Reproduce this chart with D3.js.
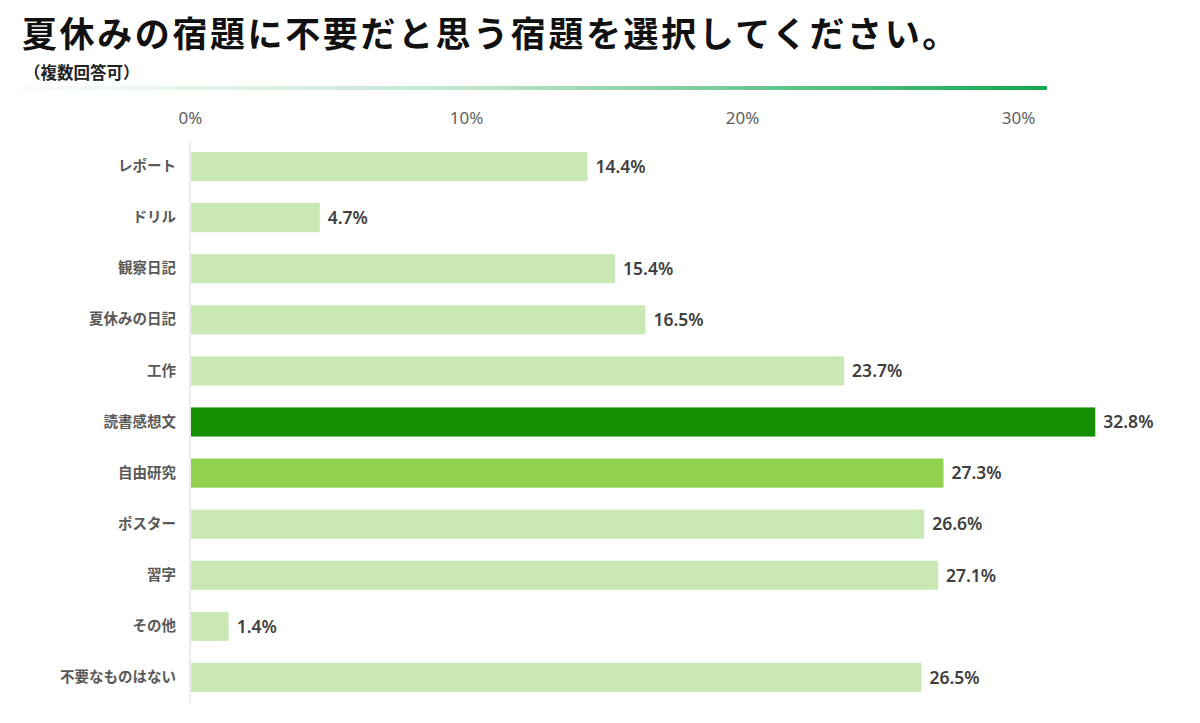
<!DOCTYPE html>
<html>
<head>
<meta charset="utf-8">
<script src="https://cdn.jsdelivr.net/npm/d3@7"></script>
<style>
  body { margin: 0; background: #fff; }
  svg { display: block; font-family: "Noto Sans CJK JP", "Noto Sans", sans-serif; }
</style>
</head>
<body>
<div class="chart"></div>
<script>
// data
var categories = ["レポート", "ドリル", "観察日記", "夏休みの日記", "工作", "読書感想文",
                  "自由研究", "ポスター", "習字", "その他", "不要なものはない"];
var values = [14.4, 4.7, 15.4, 16.5, 23.7, 32.8, 27.3, 26.6, 27.1, 1.4, 26.5];
var barColors = ["#c9e8b4", "#c9e8b4", "#c9e8b4", "#c9e8b4", "#c9e8b4", "#138f00",
                 "#92d050", "#c9e8b4", "#c9e8b4", "#c9e8b4", "#c9e8b4"];
var tickValues = [0, 10, 20, 30];

var width = 1200, height = 723;

var svg = d3.select(".chart")
   .append("svg")
   .attr("width", width)
   .attr("height", height);

// title
svg.append("text")
   .attr("x", 22)
   .attr("y", 47)
   .attr("font-size", "35px")
   .attr("font-weight", "bold")
   .attr("letter-spacing", "2.6px")
   .attr("fill", "#111")
   .text("夏休みの宿題に不要だと思う宿題を選択してください。");

svg.append("text")
   .attr("x", 24)
   .attr("y", 79)
   .attr("font-size", "16.5px")
   .attr("font-weight", "bold")
   .attr("fill", "#222")
   .text("（複数回答可）");

// gradient rule under the title
var grad = svg.append("defs").append("linearGradient")
   .attr("id", "rule")
   .attr("x1", "0%").attr("x2", "100%");
grad.append("stop").attr("offset", "0%").attr("stop-color", "#ffffff");
grad.append("stop").attr("offset", "45%").attr("stop-color", "#bfe6cb");
grad.append("stop").attr("offset", "100%").attr("stop-color", "#14a850");

svg.append("rect")
   .attr("x", 0)
   .attr("y", 86)
   .attr("width", 1047)
   .attr("height", 4)
   .attr("fill", "url(#rule)");

// scales
var x = d3.scaleLinear()
   .domain([0, 30])
   .range([190, 1018]);

var y = d3.scaleBand()
   .domain(categories)
   .range([141, 703])
   .paddingInner(0.43)
   .paddingOuter(0.215);

// top axis labels
var xAxis = d3.axisTop(x)
   .tickValues(tickValues)
   .tickSize(0)
   .tickPadding(0)
   .tickFormat(function(d){ return d + "%"; });

var gx = svg.append("g")
   .attr("transform", "translate(0,124)")
   .call(xAxis);
gx.select(".domain").remove();
gx.selectAll("text")
   .attr("font-size", "17px")
   .attr("fill", "#606060")
   .attr("font-family", "'Noto Sans', sans-serif");

// vertical baseline
svg.append("line")
   .attr("x1", x(0)).attr("x2", x(0))
   .attr("y1", 141).attr("y2", 703)
   .attr("stroke", "#d9d9d9")
   .attr("stroke-width", 1);

// bars
svg.selectAll("rect.bar")
   .data(values)
   .enter()
   .append("rect")
   .attr("class", "bar")
   .attr("x", x(0) + 1)
   .attr("y", function(d, i){ return y(categories[i]); })
   .attr("width", function(d){ return x(d) - x(0) - 1; })
   .attr("height", y.bandwidth())
   .attr("fill", function(d, i){ return barColors[i]; });

// value labels
svg.selectAll("text.val")
   .data(values)
   .enter()
   .append("text")
   .attr("class", "val")
   .attr("x", function(d){ return x(d) + 8; })
   .attr("y", function(d, i){ return y(categories[i]) + y.bandwidth() / 2; })
   .attr("dy", "0.36em")
   .attr("font-size", "17.5px")
   .attr("font-weight", "600")
   .attr("fill", "#404040")
   .attr("font-family", "'Noto Sans', sans-serif")
   .text(function(d){ return d.toFixed(1) + "%"; });

// category labels
var yAxis = d3.axisLeft(y).tickSize(0).tickPadding(14);
var gy = svg.append("g")
   .attr("transform", "translate(" + x(0) + ",0)")
   .call(yAxis);
gy.select(".domain").remove();
gy.selectAll("text")
   .attr("font-size", "14.5px")
   .attr("font-weight", "bold")
   .attr("fill", "#595959")
   .attr("font-family", "'Noto Sans CJK JP', sans-serif");
</script>
</body>
</html>
